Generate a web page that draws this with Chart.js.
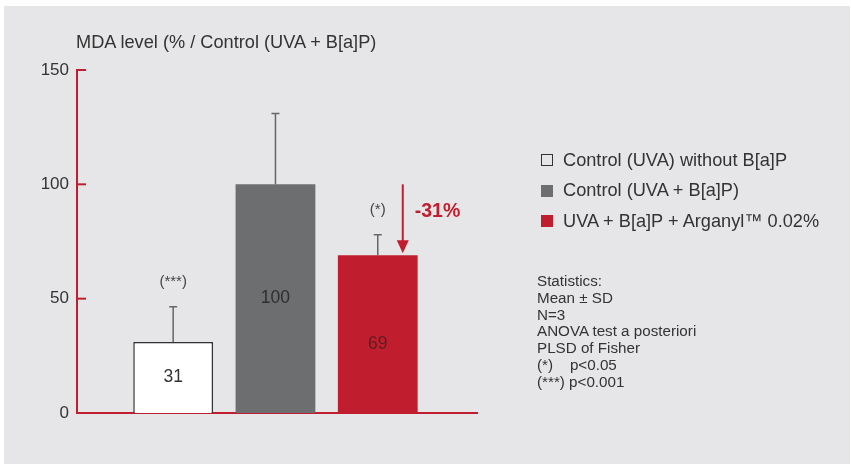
<!DOCTYPE html>
<html>
<head>
<meta charset="utf-8">
<script src="https://cdn.jsdelivr.net/npm/chart.js@4.4.1/dist/chart.umd.min.js"></script>
<style>
  html, body { margin: 0; padding: 0; background: #fff; }
  body { width: 851px; height: 464px; position: relative; overflow: hidden;
         font-family: "Liberation Sans", Arial, Helvetica, sans-serif; color: #333; }
  #panel { position: absolute; left: 4px; top: 6px; width: 846px; height: 458px; background: #e6e6e8; }
  #chart { position: absolute; left: 0; top: 0; }
  #title { position: absolute; left: 76px; top: 32px; font-size: 18.2px; white-space: nowrap; }
  #legend { position: absolute; left: 541px; top: 145px; font-size: 18.2px; }
  #legend .row { height: 30.5px; display: flex; align-items: center; white-space: nowrap; }
  #legend .sw { width: 12px; height: 12px; box-sizing: border-box; margin-right: 10px; }
  #stats { position: absolute; left: 537px; top: 273px; font-size: 15.2px; line-height: 16.8px; white-space: pre; }
</style>
</head>
<body>
<div id="panel"></div>
<canvas id="chart" width="851" height="464"></canvas>
<div id="title"></div>
<div id="legend"></div>
<div id="stats"></div>
<script>
const categories = ['Control (UVA) without B[a]P', 'Control (UVA + B[a]P)', 'UVA + B[a]P + Arganyl\u2122 0.02%'];
const mdaValues = [31, 100, 69];
const sdValues = [15.5, 31, 9];
const significance = ['(***)', '', '(*)'];
const yTicks = [0, 50, 100, 150];
const reductionLabel = '-31%';
const titleText = 'MDA level (% / Control (UVA + B[a]P)';
const statsLines = ['Statistics:', 'Mean \u00b1 SD', 'N=3', 'ANOVA test a posteriori', 'PLSD of Fisher', '(*)    p<0.05', '(***) p<0.001'];

const RED = '#c01e2e';
const GRAY = '#6d6e70';
const barFill = ['#ffffff', GRAY, RED];
const barBorder = ['#333333', GRAY, RED];
const labelColor = ['#333333', '#2e2e2e', '#5e1d22'];

document.getElementById('title').textContent = titleText;
document.getElementById('stats').textContent = statsLines.join('\n');

const legend = document.getElementById('legend');
categories.forEach((name, i) => {
    const row = document.createElement('div');
    row.className = 'row';
    const sw = document.createElement('div');
    sw.className = 'sw';
    sw.style.background = i === 0 ? 'transparent' : barFill[i];
    sw.style.border = i === 0 ? '1.5px solid #333' : 'none';
    const txt = document.createElement('span');
    txt.textContent = name;
    row.appendChild(sw);
    row.appendChild(txt);
    legend.appendChild(row);
});

// inner tick marks, error bars, labels and the reduction arrow
const extras = {
    id: 'extras',
    afterDatasetsDraw(chart) {
        const { ctx, chartArea, scales: { y } } = chart;
        const bars = chart.getDatasetMeta(0).data;
        ctx.save();

        ctx.strokeStyle = RED;
        ctx.lineWidth = 2;
        yTicks.forEach(t => {
            const py = y.getPixelForValue(t);
            ctx.beginPath();
            ctx.moveTo(chartArea.left, py);
            ctx.lineTo(chartArea.left + 9, py);
            ctx.stroke();
        });

        ctx.textAlign = 'center';
        ctx.textBaseline = 'middle';
        const labelNudge = [0, 0, 10];
        bars.forEach((bar, i) => {
            const top = y.getPixelForValue(mdaValues[i] + sdValues[i]);
            ctx.strokeStyle = '#666';
            ctx.lineWidth = 1.5;
            ctx.beginPath();
            ctx.moveTo(bar.x, bar.y);
            ctx.lineTo(bar.x, top);
            ctx.moveTo(bar.x - 4, top);
            ctx.lineTo(bar.x + 4, top);
            ctx.stroke();

            ctx.fillStyle = labelColor[i];
            ctx.font = '17.5px "Liberation Sans", Arial, sans-serif';
            ctx.fillText(String(mdaValues[i]), bar.x, y.getPixelForValue(mdaValues[i] / 2) + labelNudge[i]);

            if (significance[i]) {
                ctx.fillStyle = '#444';
                ctx.font = '15px "Liberation Sans", Arial, sans-serif';
                ctx.fillText(significance[i], bar.x, top - 25);
            }
        });

        const red = bars[2];
        const ax = red.x + 25;
        const y0 = y.getPixelForValue(mdaValues[1]);
        const y1 = y.getPixelForValue(mdaValues[2]) - 2;
        ctx.strokeStyle = RED;
        ctx.fillStyle = RED;
        ctx.lineWidth = 2;
        ctx.beginPath();
        ctx.moveTo(ax, y0);
        ctx.lineTo(ax, y1 - 10);
        ctx.stroke();
        ctx.beginPath();
        ctx.moveTo(ax - 6, y1 - 13);
        ctx.lineTo(ax + 6, y1 - 13);
        ctx.lineTo(ax, y1);
        ctx.closePath();
        ctx.fill();

        ctx.textAlign = 'left';
        ctx.font = 'bold 19.5px "Liberation Sans", Arial, sans-serif';
        ctx.fillText(reductionLabel, ax + 12, (y0 + y1) / 2 - 7);
        ctx.restore();
    }
};

new Chart(document.getElementById('chart'), {
    type: 'bar',
    data: {
        datasets: [{
            data: mdaValues.map((v, i) => ({ x: i + 1, y: v })),
            backgroundColor: barFill,
            borderColor: barBorder,
            borderWidth: [1.5, 0, 0],
            borderSkipped: 'bottom',
            barPercentage: 0.78,
            categoryPercentage: 1
        }]
    },
    options: {
        responsive: false,
        animation: false,
        layout: { padding: { left: 0, right: 374, top: 70, bottom: 51 } },
        plugins: { legend: { display: false }, tooltip: { enabled: false } },
        scales: {
            x: {
                type: 'linear',
                offset: false,
                min: 0.06,
                max: 3.97,
                afterBuildTicks: axis => { axis.ticks = mdaValues.map((_, i) => ({ value: i + 1 })); },
                grid: { display: false, drawTicks: false },
                ticks: { display: false },
                border: { display: true, color: RED, width: 2 }
            },
            y: {
                min: 0,
                max: 150,
                afterFit: axis => { axis.width = 77; },
                afterBuildTicks: axis => { axis.ticks = yTicks.map(v => ({ value: v })); },
                grid: { display: false, drawTicks: false },
                border: { display: true, color: RED, width: 2 },
                ticks: {
                    padding: 8,
                    color: '#333',
                    font: { size: 17, family: '"Liberation Sans", Arial, sans-serif' }
                }
            }
        }
    },
    plugins: [extras]
});
</script>
</body>
</html>
